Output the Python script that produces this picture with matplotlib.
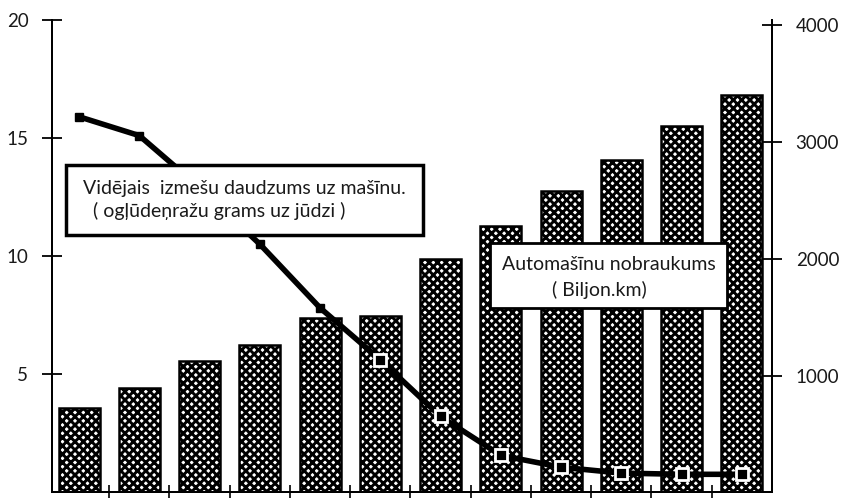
import numpy as np
import matplotlib.pyplot as plt
from matplotlib.patches import Rectangle

plt.rcParams['font.family'] = ['Lato', 'DejaVu Sans']
plt.rcParams['hatch.linewidth'] = 2.1

# data
years = np.arange(12)
mileage = [730, 900, 1130, 1270, 1500, 1520, 2000, 2280, 2580, 2850, 3140, 3400]
emissions = [15.9, 15.1, 12.9, 10.5, 7.8, 5.6, 3.2, 1.55, 1.05, 0.8, 0.75, 0.75]
left_ticks = [5, 10, 15, 20]
right_ticks = [1000, 2000, 3000, 4000]

W, H = 843, 498
def fx(px): return px / W
def fy(py): return 1 - py / H

fig = plt.figure(figsize=(8.43, 4.98), dpi=100)
ax = fig.add_axes([fx(52), fy(492), fx(772) - fx(52), fy(20) - fy(492)])
ax2 = ax.twinx()

# bars on right axis
ax2.bar(years, mileage, width=0.68, color='white', edgecolor='black',
        hatch='xxxx', linewidth=1.8, zorder=1)
ax2.set_ylim(15, 4040)
ax2.set_yticks(right_ticks)
ax2.tick_params(axis='y', direction='inout', length=14, width=1.3, pad=10,
                labelsize=13.5, labelcolor='#1a1a1a')

# emission line on left axis, drawn above the bars
ax.set_zorder(ax2.get_zorder() + 1)
ax.patch.set_visible(False)
ax.plot(years, emissions, color='black', lw=4, zorder=3)
ax.plot(years[:6], emissions[:6], 's', ms=6, color='black', zorder=4)
ax.plot(years[5:], emissions[5:], 's', ms=9, mfc='black', mec='white', mew=2, zorder=4)
ax.set_ylim(0, 20)
ax.set_xlim(-0.45, 11.5)
ax.set_yticks(left_ticks)
ax.tick_params(axis='y', direction='inout', length=14, width=1.3, pad=10,
               labelsize=13.5, labelcolor='#1a1a1a')
ax.set_xticks(np.arange(0.5, 11, 1))
ax.tick_params(axis='x', direction='inout', length=10, width=1.2, labelbottom=False)

for a in (ax, ax2):
    a.spines['top'].set_visible(False)
    for s in ('left', 'right', 'bottom'):
        a.spines[s].set_linewidth(1.4)

# text boxes
fig.add_artist(Rectangle((fx(66), fy(235)), fx(423) - fx(66), fy(165) - fy(235),
                         transform=fig.transFigure, facecolor='white',
                         edgecolor='black', lw=2.5, zorder=10))
fig.text(fx(83), fy(188), 'Vidējais  izmešu daudzums uz mašīnu.', fontsize=14,
         color='#1a1a1a', va='center', zorder=11)
fig.text(fx(93), fy(211), '( ogļūdeņražu grams uz jūdzi )', fontsize=14,
         color='#1a1a1a', va='center', zorder=11)

fig.add_artist(Rectangle((fx(490), fy(308)), fx(727) - fx(490), fy(243) - fy(308),
                         transform=fig.transFigure, facecolor='white',
                         edgecolor='black', lw=2, zorder=10))
fig.text(fx(502), fy(264), 'Automašīnu nobraukums', fontsize=14,
         color='#1a1a1a', va='center', zorder=11)
fig.text(fx(552), fy(290), '( Biljon.km)', fontsize=14,
         color='#1a1a1a', va='center', zorder=11)

fig.savefig('out.png', dpi=100)
